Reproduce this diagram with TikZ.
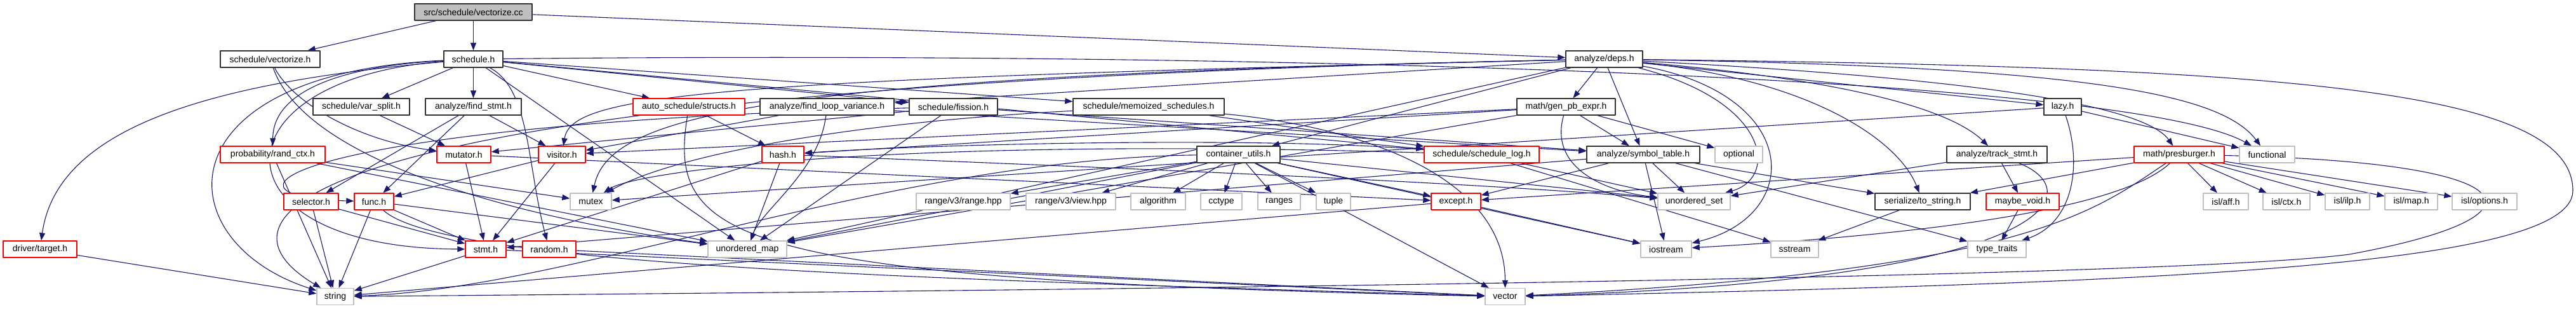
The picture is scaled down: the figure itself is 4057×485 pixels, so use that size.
\documentclass[tikz,border=0pt]{standalone}
\usepackage{fontspec}
\setsansfont{Liberation Sans}
\usetikzlibrary{arrows.meta}
\definecolor{dxEdge}{HTML}{191970}
\definecolor{dxRed}{HTML}{FF0000}
\definecolor{dxGrey}{HTML}{BFBFBF}
\definecolor{dxInk}{HTML}{333333}
\pgfdeclarelayer{paper}
\pgfdeclarelayer{edges}
\pgfsetlayers{paper,edges,main}
\begin{document}
\begin{tikzpicture}[x=1pt,y=-1pt,line cap=round,line join=round]
\begin{pgfonlayer}{paper}
\path[fill=white] (0,0) rectangle (4057,485);
\end{pgfonlayer}
\tikzset{hdr/.style={draw=dxInk,fill=white,line width=1.4pt,minimum height=26pt,inner sep=0pt,font=\sffamily\fontsize{14}{16}\selectfont},hdrtrunc/.style={hdr,draw=dxRed},syshdr/.style={hdr,draw=dxGrey},srcfile/.style={hdr,fill=dxGrey},incl/.style={draw=dxEdge,line width=1.1pt,-{Triangle[length=12pt,width=9pt]}}}
% row 0 and 1
\node[srcfile,minimum width=185pt] (vcc) at (745.5,19) {src/schedule/vectorize.cc};
\node[hdr,minimum width=157pt] (vech) at (425.5,93) {schedule/vectorize.h};
\node[hdr,minimum width=93pt] (sched) at (745.5,93) {schedule.h};
\node[hdr,minimum width=121pt] (deps) at (2526.5,93) {analyze/deps.h};
% row 2
\node[hdr,minimum width=152pt] (vsplit) at (569,168) {schedule/var\_split.h};
\node[hdr,minimum width=151pt] (fstmt) at (745.5,168) {analyze/find\_stmt.h};
\node[hdrtrunc,minimum width=176pt] (structs) at (1085,168) {auto\_schedule/structs.h};
\node[hdr,minimum width=211pt] (flv) at (1302.5,168) {analyze/find\_loop\_variance.h};
\node[hdr,minimum width=139pt] (fission) at (1501.5,168) {schedule/fission.h};
\node[hdr,minimum width=238pt] (memo) at (1809,168) {schedule/memoized\_schedules.h};
\node[hdr,minimum width=155pt] (gpb) at (2466.5,168) {math/gen\_pb\_expr.h};
\node[hdr,minimum width=59pt] (lazy) at (3248.5,168) {lazy.h};
% row 3
\node[hdrtrunc,minimum width=165pt] (randctx) at (429.5,243) {probability/rand\_ctx.h};
\node[hdrtrunc,minimum width=85pt] (mutator) at (730.5,243) {mutator.h};
\node[hdrtrunc,minimum width=74pt] (visitor) at (885,243) {visitor.h};
\node[hdrtrunc,minimum width=66pt] (hash) at (1233,243) {hash.h};
\node[hdr,minimum width=131pt] (cutils) at (1950.5,243) {container\_utils.h};
\node[hdrtrunc,minimum width=181pt] (slog) at (2333.5,243) {schedule/schedule\_log.h};
\node[hdr,minimum width=178pt] (symtab) at (2588,243) {analyze/symbol\_table.h};
\node[syshdr,minimum width=75pt] (optional) at (2738.5,243) {optional};
\node[hdr,minimum width=158pt] (tstmt) at (3145,243) {analyze/track\_stmt.h};
\node[hdrtrunc,minimum width=142pt] (presb) at (3432,243) {math/presburger.h};
\node[syshdr,minimum width=87pt] (functional) at (3570.5,243) {functional};
% row 4
\node[hdrtrunc,minimum width=86pt] (selector) at (490,317) {selector.h};
\node[hdrtrunc,minimum width=62pt] (func) at (589,317) {func.h};
\node[syshdr,minimum width=65pt] (mutex) at (930.5,317) {mutex};
\node[syshdr,minimum width=148pt] (rangehpp) at (1517,317) {range/v3/range.hpp};
\node[syshdr,minimum width=141pt] (viewhpp) at (1686.5,317) {range/v3/view.hpp};
\node[syshdr,minimum width=86pt] (algorithm) at (1824,317) {algorithm};
\node[syshdr,minimum width=65pt] (cctype) at (1923.5,317) {cctype};
\node[syshdr,minimum width=67pt] (ranges) at (2014.5,317) {ranges};
\node[syshdr,minimum width=54pt] (tuple) at (2100,317) {tuple};
\node[hdrtrunc,minimum width=78pt] (except) at (2293,317) {except.h};
\node[syshdr,minimum width=114pt] (uset) at (2668,317) {unordered\_set};
\node[hdr,minimum width=150pt] (tostr) at (3028,317) {serialize/to\_string.h};
\node[hdrtrunc,minimum width=115pt] (maybev) at (3185.5,317) {maybe\_void.h};
\node[syshdr,minimum width=71pt] (islaff) at (3505.5,317) {isl/aff.h};
\node[syshdr,minimum width=74pt] (islctx) at (3601,317) {isl/ctx.h};
\node[syshdr,minimum width=70pt] (islilp) at (3697,317) {isl/ilp.h};
\node[syshdr,minimum width=83pt] (islmap) at (3797.5,317) {isl/map.h};
\node[syshdr,minimum width=102pt] (islopt) at (3913,317) {isl/options.h};
% row 5 and 6
\node[hdrtrunc,minimum width=116pt] (drvtarget) at (63,392) {driver/target.h};
\node[hdrtrunc,minimum width=64pt] (stmt) at (765,392) {stmt.h};
\node[hdrtrunc,minimum width=84pt] (random) at (865,392) {random.h};
\node[syshdr,minimum width=124pt] (umap) at (1177,392) {unordered\_map};
\node[syshdr,minimum width=80pt] (iostream) at (2624,392) {iostream};
\node[syshdr,minimum width=75pt] (sstream) at (2826.5,392) {sstream};
\node[syshdr,minimum width=92pt] (typetraits) at (3145,392) {type\_traits};
\node[syshdr,minimum width=58pt] (string) at (528,466.5) {string};
\node[syshdr,minimum width=63pt] (vector) at (2370.5,466.5) {vector};
\begin{pgfonlayer}{edges}
% straight includes
\draw[incl] (vcc) -- (vech); \draw[incl] (vcc) -- (sched); \draw[incl] (vcc) -- (deps);
\draw[incl] (sched) -- (fstmt); \draw[incl] (sched) -- (vsplit); \draw[incl] (sched) -- (structs); \draw[incl] (sched) -- (fission); \draw[incl] (sched) -- (memo); \draw[incl] (sched) -- (slog); \draw[incl] (sched) -- (umap);
\draw[incl] (vsplit) -- (mutator); \draw[incl] (fstmt) -- (selector); \draw[incl] (fstmt) -- (func); \draw[incl] (fstmt) -- (visitor);
\draw[incl] (structs) -- (hash); \draw[incl] (flv) -- (visitor); \draw[incl] (flv) -- (symtab);
\draw[incl] (fission) -- (mutator); \draw[incl] (fission) -- (symtab); \draw[incl] (fission) -- (umap); \draw[incl] (memo) -- (slog);
\draw[incl] (randctx) -- (mutex); \draw[incl] (randctx) -- (string); \draw[incl] (randctx) -- (umap);
\draw[incl] (mutator) -- (stmt); \draw[incl] (mutator) -- (except); \draw[incl] (visitor) -- (stmt); \draw[incl] (visitor) -- (func);
\draw[incl] (selector) -- (string); \draw[incl] (selector) -- (stmt); \draw[incl] (func) -- (string); \draw[incl] (func) -- (stmt); \draw[incl] (func) -- (umap);
\draw[incl] (stmt) -- (string); \draw[incl] (stmt) -- (vector); \draw[incl] (random) -- (vector); \draw[incl] (hash) -- (stmt); \draw[incl] (hash) -- (umap);
\draw[incl] (drvtarget) -- (string);
\draw[incl] (cutils) -- (rangehpp); \draw[incl] (cutils) -- (viewhpp); \draw[incl] (cutils) -- (algorithm); \draw[incl] (cutils) -- (cctype); \draw[incl] (cutils) -- (ranges); \draw[incl] (cutils) -- (tuple);
\draw[incl] (cutils) -- (except); \draw[incl] (cutils) -- (uset); \draw[incl] (cutils) -- (iostream); \draw[incl] (cutils) -- (umap); \draw[incl] (cutils) -- (vector);
\draw[incl] (slog) -- (uset); \draw[incl] (slog) -- (sstream);
\draw[incl] (symtab) -- (uset); \draw[incl] (symtab) -- (except); \draw[incl] (symtab) -- (stmt); \draw[incl] (symtab) -- (tostr); \draw[incl] (symtab) -- (typetraits); \draw[incl] (symtab) -- (iostream);
\draw[incl] (gpb) -- (symtab); \draw[incl] (gpb) -- (optional); \draw[incl] (gpb) -- (hash); \draw[incl] (gpb) -- (visitor); \draw[incl] (gpb) -- (umap);
\draw[incl] (deps) -- (gpb); \draw[incl] (deps) -- (symtab); \draw[incl] (deps) -- (flv); \draw[incl] (deps) -- (lazy); \draw[incl] (deps) -- (cutils); \draw[incl] (deps) -- (umap);
\draw[incl] (tstmt) -- (maybev); \draw[incl] (tstmt) -- (uset); \draw[incl] (lazy) -- (mutex); \draw[incl] (lazy) -- (functional);
\draw[incl] (presb) -- (islaff); \draw[incl] (presb) -- (islctx); \draw[incl] (presb) -- (islilp); \draw[incl] (presb) -- (islmap); \draw[incl] (presb) -- (islopt);
\draw[incl] (presb) -- (tostr); \draw[incl] (presb) -- (except); \draw[incl] (tostr) -- (sstream); \draw[incl] (maybev) -- (typetraits);
\draw[incl] (except) -- (iostream); \draw[incl] (except) -- (string);
% curved includes
\draw[incl] (sched) .. controls (835,140) and (830,260) .. (random);
\draw[incl] (sched) .. controls (330,130) and (90,200) .. (drvtarget);
\draw[incl] (sched) .. controls (520,105) and (430,150) .. (randctx);
\draw[incl] (sched) .. controls (250,115) and (260,380) .. (string);
\draw[incl] (sched) .. controls (330,125) and (330,390) .. (stmt);
\draw[incl] (sched) .. controls (2000,80) and (3350,120) .. (functional);
\draw[incl] (vech) .. controls (460,160) and (560,220) .. (mutator);
\draw[incl] (vech) .. controls (480,250) and (800,340) .. (umap);
\draw[incl] (fission) .. controls (450,195) and (310,310) .. (func);
\draw[incl] (structs) .. controls (1050,380) and (1150,440) .. (vector);
\draw[incl] (flv) .. controls (1290,270) and (1200,330) .. (umap);
\draw[incl] (hash) .. controls (1700,262) and (2300,285) .. (uset);
\draw[incl] (memo) .. controls (1300,195) and (1050,250) .. (mutex);
\draw[incl] (memo) .. controls (2150,200) and (2370,280) .. (vector);
\draw[incl] (slog) .. controls (1400,215) and (1000,270) .. (mutex);
\draw[incl] (slog) .. controls (2000,215) and (1500,225) .. (hash);
\draw[incl] (cutils) .. controls (1400,250) and (900,455) .. (string);
\draw[incl] (func) .. controls (700,420) and (1500,440) .. (vector);
\draw[incl] (gpb) .. controls (2440,260) and (2520,300) .. (uset);
\draw[incl] (deps) .. controls (1200,120) and (960,180) .. (mutex);
\draw[incl] (deps) .. controls (1100,125) and (900,150) .. (visitor);
\draw[incl] (deps) .. controls (500,135) and (300,330) .. (string);
\draw[incl] (deps) .. controls (3300,105) and (3500,150) .. (functional);
\draw[incl] (deps) .. controls (3150,125) and (3380,170) .. (presb);
\draw[incl] (deps) .. controls (2900,125) and (3070,170) .. (tstmt);
\draw[incl] (deps) .. controls (2850,125) and (2990,220) .. (tostr);
\draw[incl] (deps) .. controls (2790,160) and (2800,280) .. (uset);
\draw[incl] (deps) .. controls (2840,150) and (2840,340) .. (iostream);
\draw[incl] (deps) .. controls (3600,105) and (4052,140) .. (4052,300) .. controls (4052,420) and (3400,445) .. (vector);
\draw[incl] (presb) .. controls (3990,255) and (4030,340) .. (3700,400) .. controls (3400,440) and (1500,458) .. (string);
\draw[incl] (presb) .. controls (3300,330) and (3200,425) .. (vector);
\draw[incl] (presb) .. controls (3350,320) and (3100,365) .. (iostream);
\draw[incl] (tstmt) .. controls (3290,300) and (3250,440) .. (vector);
\draw[incl] (lazy) .. controls (3280,260) and (3265,350) .. (typetraits);
\end{pgfonlayer}
\end{tikzpicture}
\end{document}
